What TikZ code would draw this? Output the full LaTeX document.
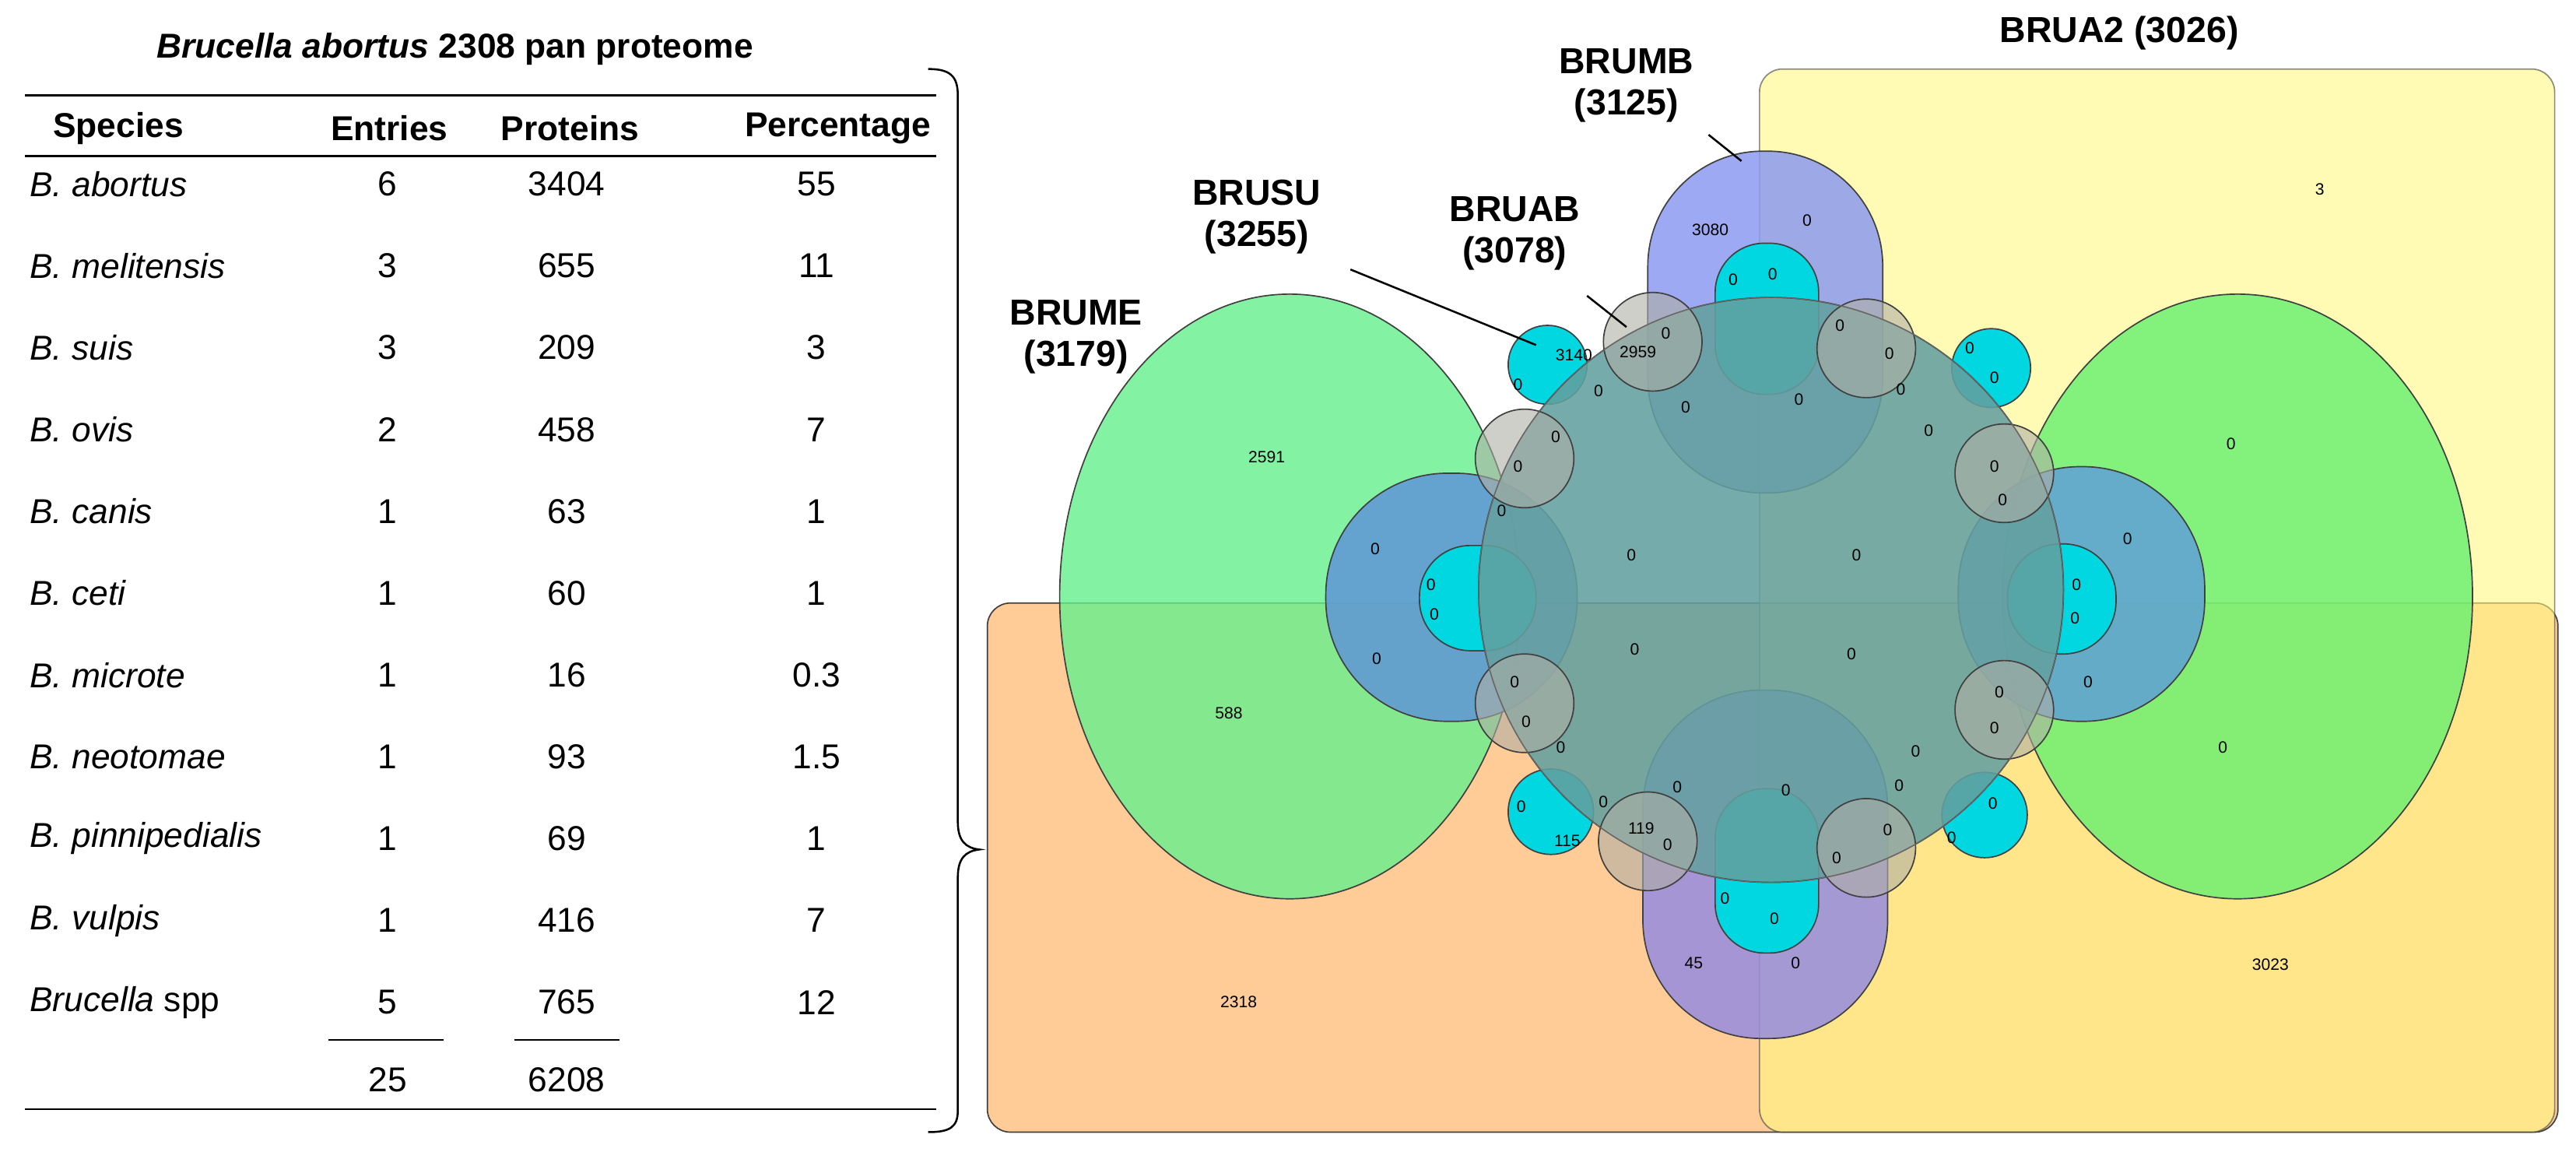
\documentclass[tikz,border=0pt]{standalone}
\usepackage{fontspec}
\setmainfont{Liberation Sans}
\begin{document}
\begin{tikzpicture}[x=1pt,y=-1pt,
  tx/.style={font=\fontsize{21}{24}\selectfont,inner sep=0},
  hd/.style={font=\bfseries\fontsize{21}{24}\selectfont,inner sep=0},
  sm/.style={font=\fontsize{10}{12}\selectfont,inner sep=0},
  ttl/.style={font=\bfseries\fontsize{22}{25}\selectfont,align=center,inner sep=0},
  ed/.style={draw=black!75,line width=0.8pt},
  lead/.style={draw=black,line width=1.2pt}]
\useasboundingbox (0,0) rectangle (1568,705);
\fill[white] (0,0) rectangle (1568,705);
% ---------- table ----------
\node[hd] (title) at (277,30) {\itshape Brucella abortus\upshape{} 2308 pan proteome};
\draw[line width=1pt] (15,58) -- (570,58);
\draw[line width=1pt] (15,95) -- (570,95);
\draw[line width=1pt] (15,675) -- (570,675);
\node[hd] (h1) at (72,78) {Species};
\node[hd] (h2) at (237,78) {Entries};
\node[hd] (h3) at (347,78) {Proteins};
\node[hd] (h4) at (510,78) {Percentage};
\foreach \sp/\e/\p/\q [count=\i] in {
  {\itshape B. abortus}/6/3404/55,
  {\itshape B. melitensis}/3/655/11,
  {\itshape B. suis}/3/209/3,
  {\itshape B. ovis}/2/458/7,
  {\itshape B. canis}/1/63/1,
  {\itshape B. ceti}/1/60/1,
  {\itshape B. microte}/1/16/0.3,
  {\itshape B. neotomae}/1/93/1.5,
  {\itshape B. pinnipedialis}/1/69/1,
  {\itshape B. vulpis}/1/416/7,
  {\itshape Brucella} spp/5/765/12}{
  \pgfmathsetmacro\yy{112+49.8*(\i-1)}
  \node[tx,anchor=west] (s\i) at (18,\yy) {\sp};
  \node[tx] (e\i) at (236,\yy) {\e};
  \node[tx] (p\i) at (345,\yy) {\p};
  \node[tx] (q\i) at (497,\yy) {\q};
}
\draw[line width=1pt] (200,633) -- (270,633);
\draw[line width=1pt] (313,633) -- (377,633);
\node[tx] (te) at (236,657) {25};
\node[tx] (tp) at (345,657) {6208};
% brace
\draw[line width=1.2pt] (565,42) .. controls (578,42) and (583,46) .. (583,58) -- (583,500)
  .. controls (583,512) and (588,516) .. (596,517) .. controls (588,518) and (583,522) .. (583,534)
  -- (583,676) .. controls (583,686) and (578,689) .. (565,689);
% ---------- venn ----------
\fill[ed,fill=orange!45,fill opacity=0.9] (601,367) [rounded corners=14] rectangle (1557,689);
\fill[ed,draw opacity=0.6,fill={rgb,255:red,255;green,248;blue,130},fill opacity=0.6] (1071,42) [rounded corners=14] rectangle (1555,689);
\fill[ed,fill={rgb,255:red,100;green,240;blue,140},fill opacity=0.8] (785,363) ellipse (140 and 184);
\fill[ed,fill={rgb,255:red,100;green,240;blue,110},fill opacity=0.8] (1362,363) ellipse (143 and 184);
\fill[ed,fill={rgb,255:red,140;green,155;blue,240},fill opacity=0.85] (1003,92) [rounded corners=70] rectangle (1146,300);
\fill[ed,fill={rgb,255:red,150;green,140;blue,225},fill opacity=0.85] (1000,420) [rounded corners=72] rectangle (1149,632);
\fill[ed,fill={rgb,255:red,95;green,150;blue,215},fill opacity=0.85] (807,288) [rounded corners=74] rectangle (960,439);
\fill[ed,fill={rgb,255:red,95;green,160;blue,215},fill opacity=0.85] (1192,284) [rounded corners=74] rectangle (1342,439);
% cyan lobes
\tikzset{cy/.style={ed,fill={rgb,255:red,0;green,215;blue,225}}}
\fill[cy] (1044,148) [rounded corners=30] rectangle (1107,240);
\fill[cy] (1044,480) [rounded corners=30] rectangle (1107,580);
\fill[cy] (864,332) [rounded corners=31] rectangle (935,396);
\fill[cy] (1222,331) [rounded corners=32] rectangle (1288,398);
\fill[cy] (942,222) circle (24);
\fill[cy] (1212,224) circle (24);
\fill[cy] (944,494) circle (26);
\fill[cy] (1208,496) circle (26);
% main circle
\fill[ed,fill={rgb,255:red,100;green,160;blue,160},fill opacity=0.88] (1078,359) circle (178);
% grey bulges
\foreach \x/\y in {1006/208,1136/212,928/279,1220/288,928/428,1220/432,1003/512,1136/516}{
  \fill[ed,fill={rgb,255:red,175;green,175;blue,165},fill opacity=0.6] (\x,\y) circle (30);
}
\draw[black!60,line width=0.6pt] (1078,359) circle (178);
% numbers
\foreach \x/\y/\t in {1412/115/3,1041/140/3080,1100/134/0,1055/170/0,1079/167/0,1014/203/0,958/216/3140,997/214/2959,
1120/198/0,1150/215/0,1199/212/0,1214/230/0,924/234/0,973/238/0,1026/248/0,1095/243/0,1157/237/0,1174/262/0,
947/266/0,924/284/0,1214/284/0,1219/304/0,914/311/0,771/278/2591,1358/270/0,837/334/0,1295/328/0,871/356/0,873/374/0,
993/338/0,1130/338/0,1264/356/0,1263/376/0,838/401/0,995/395/0,1127/398/0,1271/415/0,922/415/0,1217/421/0,748/434/588,
929/439/0,1214/443/0,950/455/0,1166/457/0,1353/455/0,1021/479/0,1087/481/0,1156/478/0,976/488/0,926/491/0,1213/489/0,
999/504/119,1015/514/0,954/512/115,1149/505/0,1188/510/0,1118/522/0,1050/547/0,1080/559/0,1031/586/45,1093/586/0,
1382/587/3023,754/610/2318}{
  \node[sm] at (\x,\y) {\t};
}
% titles
\node[ttl] (tA2) at (1290,20) {BRUA2 (3026)};
\node[ttl] (tMB) at (990,52) {BRUMB\\(3125)};
\node[ttl] (tSU) at (765,132) {BRUSU\\(3255)};
\node[ttl] (tAB) at (922,142) {BRUAB\\(3078)};
\node[ttl] (tME) at (655,205) {BRUME\\(3179)};
\coordinate (eMB) at (1060,98);
\coordinate (eSU) at (935,210);
\coordinate (eAB) at (990,199);
\draw[lead] (1040,82) -- (eMB);
\draw[lead] (822,164) -- (eSU);
\draw[lead] (966,180) -- (eAB);
\end{tikzpicture}
\end{document}
